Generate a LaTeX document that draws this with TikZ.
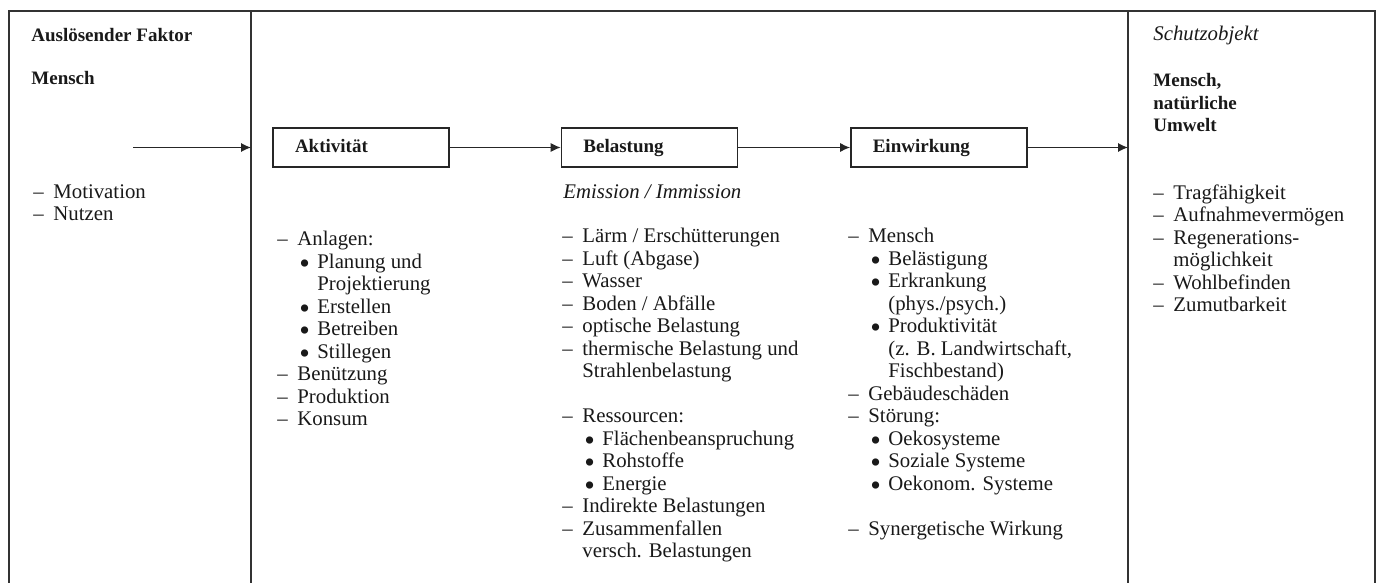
\documentclass[tikz,border=0pt]{standalone}
\usepackage{fontspec}
\setmainfont{Liberation Serif}
\usetikzlibrary{positioning,arrows.meta}

\newcommand{\lstdash}[1]{\makebox[10pt][l]{--}#1}
\newcommand{\lstdcont}[1]{\hspace*{10pt}#1}
\newcommand{\lstbul}[1]{\hspace*{10pt}\makebox[10pt][l]{\hspace{1pt}\raisebox{-2.4pt}[0pt][0pt]{\scalebox{1.45}{\textbullet}}}#1}
\newcommand{\lstbcont}[1]{\hspace*{20pt}#1}

\tikzset{
  stage/.style={draw=black!85, line width=0.7pt, minimum width=88pt, minimum height=19.5pt,
    text width=66pt, text height=7pt, text depth=2pt, inner xsep=11pt, align=left,
    font=\fontsize{9.5}{11.25}\selectfont\bfseries},
  flow/.style={draw=black!85, line width=0.7pt, -{Latex[length=5pt,width=4.6pt]}},
  itemlist/.style={anchor=north west, inner sep=0pt, align=left, font=\fontsize{10.4}{11.25}\selectfont},
  colhead/.style={anchor=west, inner sep=0pt, align=left, font=\fontsize{9.5}{11.25}\selectfont\bfseries},
  emph/.style={anchor=west, inner sep=0pt, font=\fontsize{10.4}{11.25}\selectfont\itshape}
}

\begin{document}
\begin{tikzpicture}[x=0.5pt, y=-0.5pt, text=black!90]
\useasboundingbox (0,0) rectangle (1380,583);
\draw[black!80, line width=0.8pt] (9,583) -- (9,11) -- (1375,11) -- (1375,583);
\draw[black!80, line width=0.8pt] (251,11) -- (251,583);
\draw[black!80, line width=0.8pt] (1128,11) -- (1128,583);

\node[stage] (akt) at (361,147.5) {Aktivität};
\node[stage, right=55.5pt of akt] (bel) {Belastung};
\node[stage, right=56pt of bel] (einw) {Einwirkung};

\coordinate (start) at (133,147.5);
\coordinate (links) at (251,147.5);
\coordinate (rechts) at (1128,147.5);
\draw[flow] (start) -- (links);
\draw[flow] (akt) -- (bel);
\draw[flow] (bel) -- (einw);
\draw[flow] (einw) -- (rechts);

\node[colhead] (faktor) at (31,35) {Auslösender Faktor};
\node[colhead] (mensch) at (31,78) {Mensch};
\node[itemlist] (motiv) at (33,184) {\lstdash{Motivation}\\
  \lstdash{Nutzen}};

\node[itemlist] (anlagen) at (277,231) {\lstdash{Anlagen:}\\
  \lstbul{Planung und}\\
  \lstbcont{Projektierung}\\
  \lstbul{Erstellen}\\
  \lstbul{Betreiben}\\
  \lstbul{Stillegen}\\
  \lstdash{Benützung}\\
  \lstdash{Produktion}\\
  \lstdash{Konsum}};

\node[emph] (emis) at (563,192) {Emission / Immission};
\node[itemlist] (laerm) at (562,228) {\lstdash{Lärm / Erschütterungen}\\
  \lstdash{Luft (Abgase)}\\
  \lstdash{Wasser}\\
  \lstdash{Boden / Abfälle}\\
  \lstdash{optische Belastung}\\
  \lstdash{thermische Belastung und}\\
  \lstdcont{Strahlenbelastung}\\[11.25pt]
  \lstdash{Ressourcen:}\\
  \lstbul{Flächenbeanspruchung}\\
  \lstbul{Rohstoffe}\\
  \lstbul{Energie}\\
  \lstdash{Indirekte Belastungen}\\
  \lstdash{Zusammenfallen}\\
  \lstdcont{versch. Belastungen}};

\node[itemlist] (wirkung) at (848,228) {\lstdash{Mensch}\\
  \lstbul{Belästigung}\\
  \lstbul{Erkrankung}\\
  \lstbcont{(phys./psych.)}\\
  \lstbul{Produktivität}\\
  \lstbcont{(z. B. Landwirtschaft,}\\
  \lstbcont{Fischbestand)}\\
  \lstdash{Gebäudeschäden}\\
  \lstdash{Störung:}\\
  \lstbul{Oekosysteme}\\
  \lstbul{Soziale Systeme}\\
  \lstbul{Oekonom. Systeme}\\[11.25pt]
  \lstdash{Synergetische Wirkung}};

\node[emph] (schutz) at (1153,35) {Schutzobjekt};
\node[colhead, anchor=north west] (umwelt) at (1153,73) {Mensch,\\natürliche\\Umwelt};
\node[itemlist] (trag) at (1153,184) {\lstdash{Tragfähigkeit}\\
  \lstdash{Aufnahmevermögen}\\
  \lstdash{Regenerations-}\\
  \lstdcont{möglichkeit}\\
  \lstdash{Wohlbefinden}\\
  \lstdash{Zumutbarkeit}};
\end{tikzpicture}
\end{document}
